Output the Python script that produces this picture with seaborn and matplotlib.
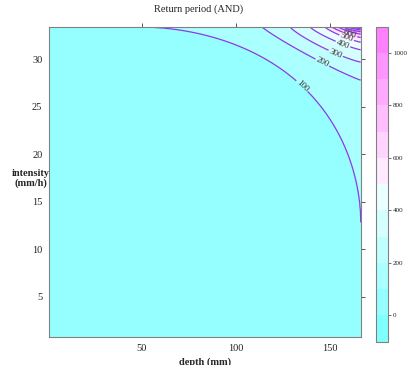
import numpy as np
import matplotlib
matplotlib.use("Agg")
import matplotlib.pyplot as plt
import seaborn as sns
from matplotlib.colors import ListedColormap, BoundaryNorm

# ---- values ----
depth_range = [0.93, 166.3]          # depth (mm), panel extent
intensity_range = [0.76, 33.4]       # intensity (mm/h), panel extent
contour_levels = [100, 200, 300, 400, 500, 600, 700, 800, 900, 1000]
# where each return-period contour meets the top edge (depth) and the right edge (intensity)
top_edge_depth = [49.1, 113.9, 128.8, 139.4, 147.3, 151.1, 154.3, 156.9, 159.5, 162.0]
right_edge_intensity = [12.8, 27.8, 29.7, 31.0, 31.8, 32.3, 32.65, 32.9, 33.08, 33.22]
# curvature of each contour (superellipse exponent around the top-right corner)
contour_shape = [0.55, 1.1, 1.2, 1.2, 1.2, 1.2, 1.2, 1.2, 1.2, 1.2]
corner_value = 1090
colorbar_ticks = [0, 200, 400, 600, 800, 1000]
label_spots = [(135.7, 27.3), (145.7, 29.6), (153.0, 30.6), (156.5, 31.4),
               (158.5, 32.1), (160.5, 32.6)]

# ---- build the return-period surface from the read contour geometry ----
xg = np.linspace(depth_range[0], depth_range[1], 400)
yg = np.linspace(intensity_range[0], intensity_range[1], 400)
X, Y = np.meshgrid(xg, yg)
p = depth_range[1] - X
q = intensity_range[1] - Y
Pk = depth_range[1] - np.array(top_edge_depth)
Qk = intensity_range[1] - np.array(right_edge_intensity)
mk = np.array(contour_shape)
F = np.stack([(p / Pk[i]) ** mk[i] + (q / Qk[i]) ** mk[i] for i in range(len(Pk))])
F = np.maximum(F, 1e-12)
K = len(contour_levels)
lnL = np.log(np.array(contour_levels, float))
k = (F <= 1).sum(axis=0) - 1
Z = np.empty_like(X)
outside = k < 0
Z[outside] = 100 * F[0][outside] ** -2.0
kk = np.clip(k, 0, K - 2)
Fa = np.take_along_axis(F, kk[None], 0)[0]
Fb = np.take_along_axis(F, (kk + 1)[None], 0)[0]
frac = -np.log(Fa) / (np.log(Fb) - np.log(Fa))
mid = (k >= 0) & (k < K - 1)
Z[mid] = np.exp(lnL[kk] + frac * (lnL[kk + 1] - lnL[kk]))[mid]
last = k == K - 1
Z[last] = np.exp(lnL[-1] + (1 - F[-1]) * np.log(corner_value / contour_levels[-1]))[last]

# ---- draw ----
sns.set_theme(style="white")
plt.rcParams["font.family"] = ["Liberation Serif", "DejaVu Serif"]

cm_colors = ['#80FFFF', '#95FFFF', '#AAFFFF', '#BFFFFF', '#D5FFFF', '#EAFFFF',
             '#FFEAFF', '#FFD5FF', '#FFBFFF', '#FFAAFF', '#FF95FF', '#FF80FF']
bins = np.arange(-100, 1200, 100)
cmap = ListedColormap(cm_colors)
norm = BoundaryNorm(bins, cmap.N)

W, H = 409, 365
fig = plt.figure(figsize=(W / 100, H / 100), dpi=100)
ax = fig.add_axes([49.3 / W, 1 - 337 / H, (360.7 - 49.3) / W, (337 - 27) / H])
cax = fig.add_axes([376 / W, 1 - 341.7 / H, 12.3 / W, (341.7 - 26.7) / H])

cf = ax.contourf(X, Y, Z, levels=bins, cmap=cmap, norm=norm)
cs = ax.contour(X, Y, Z, levels=contour_levels, colors='#8a3be6', linewidths=0.9)
ax.clabel(cs, inline=True, inline_spacing=1, fontsize=6.5, colors='#333333', fmt='%d',
          manual=label_spots)
ax.set_xlim(*depth_range)
ax.set_ylim(*intensity_range)
ax.set_xticks([50, 100, 150])
ax.set_yticks([5, 10, 15, 20, 25, 30])
ax.tick_params(direction='out', length=3, width=0.7, color='#555555', top=True, right=True,
               labeltop=False, labelright=False, labelsize=7.5, pad=2, labelcolor='#222222')
for s in ax.spines.values():
    s.set_color('#808080'); s.set_linewidth(0.8)

cb = fig.colorbar(cf, cax=cax, ticks=colorbar_ticks)
cb.minorticks_off()
cb.outline.set_edgecolor('#808080'); cb.outline.set_linewidth(0.8)
cax.tick_params(which='both', labelsize=5, length=2, width=0.6, color='#555555', pad=1.5,
                labelcolor='#222222')
cax.tick_params(which='minor', length=0)

fig.text(199 / W, 1 - 9 / H, 'Return period (AND)', ha='center', va='center', fontsize=7.5)
fig.text(205 / W, 1 - 361.7 / H, 'depth (mm)', ha='center', va='center', fontsize=7.5, fontweight='bold')
fig.text(31 / W, 1 - 178.5 / H, 'intensity\n(mm/h)', ha='center', va='center', fontsize=7.5,
         fontweight='bold', linespacing=1.1)
fig.savefig('out.png', dpi=100)
